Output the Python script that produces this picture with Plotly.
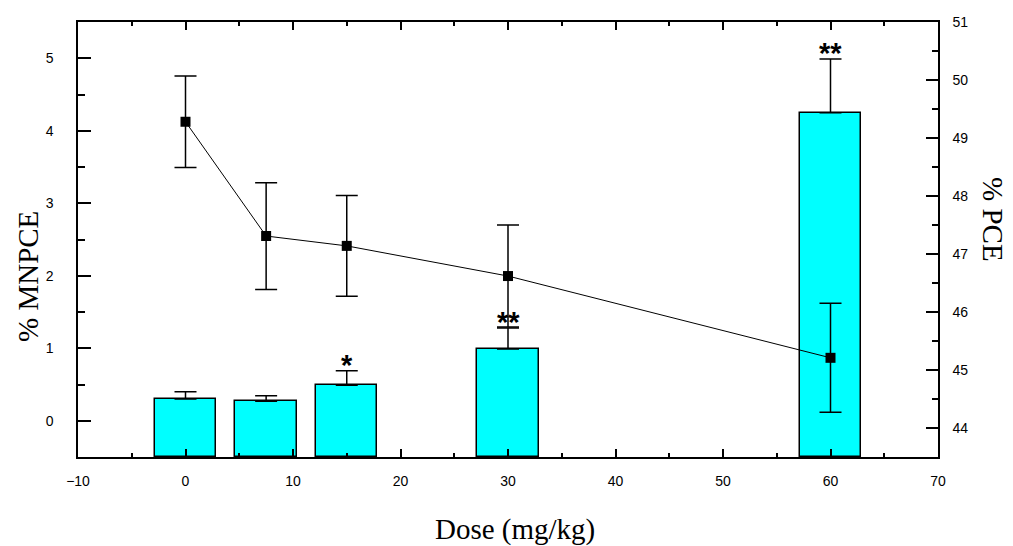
import plotly.graph_objects as go

# Data
dose = [0, 7.5, 15, 30, 60]
mnpce = [0.30, 0.27, 0.49, 0.99, 4.25]          # bars, left axis
mnpce_err = [0.10, 0.075, 0.20, 0.29, 0.74]
pce = [49.28, 47.31, 47.14, 46.62, 45.21]       # line, right axis
pce_err = [0.79, 0.92, 0.87, 0.88, 0.94]
signif = ["", "", "*", "**", "**"]

y_floor = -0.5  # bars rise from the bottom of the left axis

fig = go.Figure()

fig.add_trace(go.Bar(
    x=dose, y=[v - y_floor for v in mnpce], base=y_floor, width=5.7,
    marker=dict(color="#00FFFF", line=dict(color="black", width=1.5)),
    error_y=dict(type="data", array=mnpce_err, arrayminus=[0]*len(dose),
                 symmetric=False, color="black", thickness=1.5, width=11),
    yaxis="y", showlegend=False,
))

fig.add_trace(go.Scatter(
    x=dose, y=pce, mode="lines+markers",
    line=dict(color="black", width=1),
    marker=dict(symbol="square", size=10, color="black"),
    error_y=dict(type="data", array=pce_err, color="black", thickness=1.5, width=11),
    yaxis="y2", showlegend=False,
))

for xd, v, e, s in zip(dose, mnpce, mnpce_err, signif):
    if s:
        fig.add_annotation(x=xd, y=v + e, xref="x", yref="y", text="<b>" + s + "</b>",
                           showarrow=False, yanchor="middle", yshift=6,
                           font=dict(family="Liberation Sans", size=29, color="black"))

tickfont = dict(family="Liberation Sans", size=14, color="black")
titlefont = dict(family="Liberation Serif", size=29, color="black")

fig.update_layout(
    width=1013, height=546,
    margin=dict(l=78, r=75, t=22, b=89),
    paper_bgcolor="white", plot_bgcolor="white",
    bargap=0,
    xaxis=dict(range=[-10, 70], dtick=10, tick0=0, ticks="inside", ticklen=8, tickwidth=1.5,
               tickcolor="black", showline=True, linecolor="black", linewidth=1.5,
               mirror="ticks", showgrid=False, zeroline=False, tickfont=tickfont,
               ticklabelstandoff=10, layer="above traces",
               minor=dict(dtick=5, ticks="inside", ticklen=4, tickwidth=1.5, tickcolor="black", showgrid=False)),
    yaxis=dict(range=[-0.5, 5.5], dtick=1, tick0=0, ticks="inside", ticklen=13, tickwidth=1.5,
               tickcolor="black", showline=True, linecolor="black", linewidth=1.5,
               showgrid=False, zeroline=False, tickfont=tickfont, ticklabelstandoff=20,
               layer="above traces",
               minor=dict(dtick=0.5, ticks="inside", ticklen=7, tickwidth=1.5, tickcolor="black", showgrid=False)),
    yaxis2=dict(range=[43.5, 51], dtick=1, tick0=44, overlaying="y", side="right",
                ticks="inside", ticklen=12, tickwidth=1.5, tickcolor="black",
                showline=True, linecolor="black", linewidth=1.5,
                showgrid=False, zeroline=False, tickfont=tickfont, ticklabelstandoff=10,
                layer="above traces",
                minor=dict(dtick=0.5, ticks="inside", ticklen=6, tickwidth=1.5, tickcolor="black", showgrid=False)),
)

fig.add_annotation(x=28, y=277, text="% MNPCE", showarrow=False,
                   textangle=-90, font=titlefont, xanchor="center", yanchor="middle")
fig.add_annotation(text="% PCE", showarrow=False, textangle=90, font=titlefont,
                   x=993, y=220, xanchor="center", yanchor="middle")
fig.add_annotation(text="Dose (mg/kg)", showarrow=False, font=titlefont,
                   x=515, y=529, xanchor="center", yanchor="middle")

# convert pixel positions of titles to paper coords
pl, pr, pt, pb = 78, 1013 - 75, 22, 546 - 89
for a in fig.layout.annotations[-3:]:
    px, py = a.x, a.y
    a.xref = "paper"; a.yref = "paper"
    a.x = (px - pl) / (pr - pl)
    a.y = (pb - py) / (pb - pt)

fig.write_html("out.html")
